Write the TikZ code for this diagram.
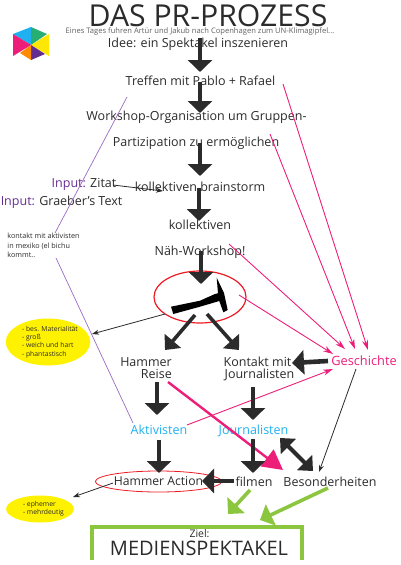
\documentclass[tikz,border=0pt]{standalone}
\usepackage{fontspec}
\setmainfont{Open Sans}
\usetikzlibrary{arrows.meta,shapes.geometric}
\definecolor{ink}{HTML}{2B2B2B}
\definecolor{pinkc}{HTML}{ED1E79}
\definecolor{cyanc}{HTML}{1FB0F0}
\definecolor{purplec}{HTML}{662D91}
\definecolor{purpleline}{HTML}{9A6CC4}
\definecolor{redc}{HTML}{ED1C24}
\definecolor{yellowc}{HTML}{FFF200}
\definecolor{greenc}{HTML}{8CC63F}
\definecolor{logogreen}{HTML}{27AE72}
\newcommand{\fs}[1]{\fontsize{#1}{#1}\selectfont}
\tikzset{
 txt/.style={inner sep=0pt,anchor=base,text=ink,font=\fs{12.5}},
 cyantxt/.style={txt,text=cyanc},
 bigarrow/.style={draw=ink,line width=4.6pt,-{Triangle[length=12pt,width=24pt]}},
 midarrow/.style={draw=ink,line width=3.6pt,-{Triangle[length=12pt,width=21pt]}},
 thinarrow/.style={draw=ink,line width=.8pt,-{Stealth[length=7pt,width=5pt]}},
 pinkarrow/.style={draw=pinkc,line width=.9pt,-{Stealth[length=10pt,width=6pt]}},
 greenarrow/.style={draw=greenc,line width=3.6pt,-{Triangle[length=12pt,width=23pt]}},
 purpleedge/.style={draw=purpleline,line width=.7pt},
 yellowblob/.style={ellipse,fill=yellowc,inner sep=0pt,text=ink,font={\fontsize{6.8}{8.4}\selectfont},align=left},
 redring/.style={ellipse,draw=redc,inner sep=0pt},
}
\begin{document}
\begin{tikzpicture}[x=1pt,y=-1pt]
\useasboundingbox (0,0) rectangle (400,565);
% logo
\fill[cyanc] (31,45) -- (13,34) -- (31,27) -- cycle;
\fill[logogreen] (31,45) -- (31,27) -- (47,34) -- cycle;
\fill[yellow!90!orange] (31,45) -- (49,34) -- (49,56) -- cycle;
\fill[purplec] (31,45) -- (45,54) -- (31,60) -- cycle;
\fill[orange!90!yellow] (31,45) -- (31,60) -- (20,53) -- cycle;
\fill[pinkc] (31,45) -- (13,34) -- (13,56) -- cycle;
% text
\node[txt,font=\fs{30.2}] (title) at (208,26) {DAS PR-PROZESS};
\node[txt,font=\fs{7.6},text=ink!75] (sub) at (200,33.5) {Eines Tages fuhren Artür und Jakub nach Copenhagen zum UN-Klimagipfel...};
\node[txt] (idee) at (198,47) {Idee: ein Spektakel inszenieren};
\node[txt] (treffen) at (200.5,85) {Treffen mit Pablo + Rafael};
\node[txt] (workshop) at (196.5,120) {Workshop-Organisation um Gruppen-};
\node[txt] (partizip) at (196,146) {Partizipation zu ermöglichen};
\node[txt] (brain) at (200,191) {kollektiven brainstorm};
\node[txt] (zitat) at (84,187) {\textcolor{purplec}{Input:} Zitat};
\node[txt] (graeber) at (61.5,205) {\textcolor{purplec}{Input:} Graeber's Text};
\node[txt] (koll) at (200,229) {kollektiven};
\node[txt] (naeh) at (200,255) {Näh-Workshop!};
\node[inner sep=0pt,anchor=center,text=ink,font={\fontsize{7.2}{9.6}\selectfont},align=left] (kontakt) at (43.5,245.5) {kontakt mit aktivisten\\in mexiko (el bichu\\kommt..};
\node[redring,line width=1.2pt,minimum width=92pt,minimum height=52pt] (ham) at (200,297) {};
\fill[black] (171,306.7) -- (200,300.7) -- (215,294) -- (218,293.3) -- (216.7,277.7) -- (224,293) -- (227.7,310) -- (223.3,312.3) -- (219.3,301) -- (200,306.7) -- (173.3,314) -- cycle;
\node[yellowblob,minimum width=82pt,minimum height=47pt] (yone) at (48,342) {\hspace*{4pt}- bes. Materialität\\\hspace*{4pt}- groß\\\hspace*{4pt}- weich und hart\\\hspace*{4pt}- phantastisch};
\node[txt,anchor=base east] (hammer) at (172,366) {Hammer};
\node[txt,anchor=base east] (reise) at (172,378) {Reise};
\node[txt] (kmit) at (257.5,366) {Kontakt mit};
\node[txt] (jblack) at (259.5,378) {Journalisten};
\node[txt,text=pinkc,font=\fs{12.8}] (gesch) at (364,365) {Geschichte};
\node[cyantxt] (akt) at (159,434) {Aktivisten};
\node[cyantxt] (jcyan) at (253.5,434) {Journalisten};
\node[redring,line width=.8pt,text=ink,font=\fs{12.2},minimum width=91pt,minimum height=21pt] (ha) at (158.5,481.5) {Hammer Action};
\node[txt] (filmen) at (254,486) {filmen};
\node[txt] (bes) at (330,486) {Besonderheiten};
\node[yellowblob,minimum width=65pt,minimum height=27pt] (ytwo) at (40,509) {\hspace*{7pt}- ephemer\\\hspace*{7pt}- mehrdeutig};
\draw[greenc,line width=3.6pt,line cap=butt,line join=miter] (92,560) -- (92,527) -- (302,527) -- (302,560);
\node[txt,font=\fs{10.5}] (ziel) at (199.5,537) {Ziel:};
\node[txt,font=\fs{20}] (medien) at (199,555) {MEDIENSPEKTAKEL};
% purple
\draw[purpleedge] ([shift={(-73.5,12)}]treffen.base) -- ([shift={(11.5,-12.5)}]kontakt.center);
\draw[purpleedge] ([shift={(12.5,12.5)}]kontakt.center) -- ([shift={(-26,-11)}]akt.base);
% pink
\draw[pinkarrow] ([shift={(82.5,-1)}]treffen.base) -- ([shift={(4,-15)}]gesch.base);
\draw[pinkarrow] ([shift={(74,-12)}]partizip.base) -- ([shift={(-9,-16)}]gesch.base);
\draw[pinkarrow] ([shift={(29,-11)}]naeh.base) -- ([shift={(-19,-16)}]gesch.base);
\draw[pinkarrow] ([shift={(39,-2)}]ham.center) -- ([shift={(-31,-11)}]gesch.base);
\draw[pinkarrow] ([shift={(28,-9)}]akt.base) -- ([shift={(-31,4)}]gesch.base);
% main
\draw[bigarrow] ([shift={(2,-9)}]idee.base) -- ([shift={(-.5,-13)}]treffen.base);
\draw[bigarrow] ([shift={(-.5,-3)}]treffen.base) -- ([shift={(3.5,-7)}]workshop.base);
\draw[bigarrow] ([shift={(4,-3)}]partizip.base) -- ([shift={(0,-15)}]brain.base);
\draw[bigarrow] ([shift={(-1,-3)}]brain.base) -- ([shift={(-1,-8)}]koll.base);
\draw[bigarrow] ([shift={(1,-4)}]naeh.base) -- ([shift={(1,-13)}]ham.center);
\draw[thinarrow] ([shift={(29,-2)}]zitat.base) -- ([shift={(-37,0)}]brain.base);
\draw[thinarrow] ([shift={(-35,17)}]ham.center) -- ([shift={(44,-8)}]yone.center);
\draw[midarrow] ([shift={(-5,18)}]ham.center) -- ([shift={(19,-16)}]hammer.base);
\draw[midarrow] ([shift={(7,17)}]ham.center) -- ([shift={(-18.5,-16)}]kmit.base);
\draw[bigarrow] ([shift={(-36,-4)}]gesch.base) -- ([shift={(34.5,-3)}]kmit.base);
\draw[bigarrow] ([shift={(-15,4)}]reise.base east) -- ([shift={(-15,37)}]reise.base east);
\draw[bigarrow] ([shift={(-6.5,9)}]jblack.base) -- ([shift={(-.5,-14)}]jcyan.base);
\draw[draw=pinkc,line width=2.4pt,-{Triangle[length=20pt,width=21pt]}] ([shift={(-4,4)}]reise.base east) -- ([shift={(-47,-16)}]bes.base);
\draw[thinarrow] ([shift={(-8,4)}]gesch.base) -- ([shift={(-11,-14)}]bes.base);
\draw[draw=ink,line width=4pt,{Triangle[length=12pt,width=21pt]}-{Triangle[length=12pt,width=21pt]}] ([shift={(26.5,4)}]jcyan.base) -- ([shift={(-17,-15)}]bes.base);
\draw[bigarrow] ([shift={(0,6)}]akt.base) -- ([shift={(.5,-8.5)}]ha.center);
\draw[bigarrow] ([shift={(-.5,5)}]jcyan.base) -- ([shift={(-1,-13)}]filmen.base);
\draw[bigarrow] ([shift={(-20,-5)}]filmen.base) -- ([shift={(43.5,-.5)}]ha.center);
\draw[thinarrow] ([shift={(-45.5,1.5)}]ha.center) -- ([shift={(33,-12)}]ytwo.center);
\draw[greenarrow] ([shift={(-4,4)}]filmen.base) -- ([shift={(28.5,-23)}]ziel.base);
\draw[greenarrow] ([shift={(-2,2)}]bes.base) -- ([shift={(60.5,-17)}]ziel.base);
\end{tikzpicture}
\end{document}
